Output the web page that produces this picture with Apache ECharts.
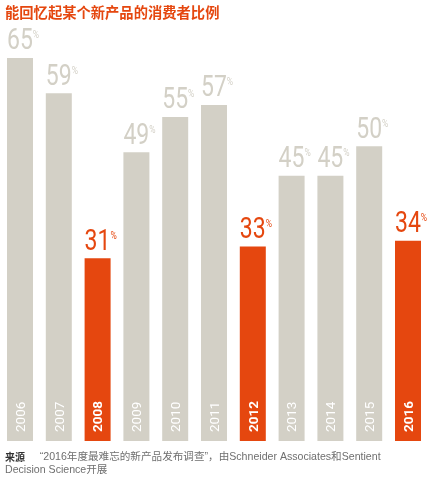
<!DOCTYPE html>
<html>
<head>
<meta charset="utf-8">
<style>
  html, body { margin: 0; padding: 0; background: #fff; }
  #main { width: 445px; height: 481px; }
</style>
<script src="https://cdn.jsdelivr.net/npm/echarts@6/dist/echarts.min.js"></script>
</head>
<body>
<div id="main"></div>
<script>
  // 数据
  const years = ['2006', '2007', '2008', '2009', '2010', '2011', '2012', '2013', '2014', '2015', '2016']
  const shares = [65, 59, 31, 49, 55, 57, 33, 45, 45, 50, 34]
  const highlightYears = ['2008', '2012', '2016']

  const GRAY = '#d3d0c6'
  const ORANGE = '#e5470f'
  const NUM_FONT = 'Roboto, "Liberation Sans", sans-serif'
  const BAR_W = 26

  const isHot = (y) => highlightYears.includes(y)

  const chart = echarts.init(document.getElementById('main'))

  // 数值标签（窄体）和年份标签（竖排）用 custom 系列画，坐标取自坐标轴
  function renderLabels(params, api) {
    const idx = api.value(0)
    const v = api.value(1)
    const year = years[idx]
    const color = isHot(year) ? ORANGE : GRAY
    const top = api.coord([idx, v])
    const base = api.coord([idx, 0])
    const left = top[0] - BAR_W / 2
    return {
      type: 'group',
      children: [
        {
          type: 'text',
          x: left,
          y: top[1] - 1,
          scaleX: 0.78,
          style: {
            text: '{n|' + v + '}{p|%}',
            align: 'left',
            verticalAlign: 'bottom',
            rich: {
              n: { fontSize: 29.5, fontFamily: NUM_FONT, lineHeight: 30, fill: color },
              p: { fontSize: 11, fontFamily: NUM_FONT, lineHeight: 30, verticalAlign: 'top', fill: color, padding: [3, 0, 0, 0] },
            },
          },
        },
        {
          type: 'text',
          x: base[0] + 1.5,
          y: base[1] - 9,
          rotation: Math.PI / 2,
          style: {
            text: year,
            align: 'left',
            verticalAlign: 'middle',
            fill: '#fff',
            fontSize: 13.5,
            fontWeight: isHot(year) ? 'bold' : 'normal',
            fontFamily: NUM_FONT,
          },
        },
      ],
    }
  }

  const option = {
    animation: false,
    grid: { left: 0.6, right: 17.6, top: 28.5, bottom: 40 },
    graphic: [
      {
        type: 'text',
        left: 5,
        top: 5,
        style: {
          text: '能回忆起某个新产品的消费者比例',
          fill: ORANGE,
          font: 'bold 14.3px "Noto Sans CJK SC", sans-serif',
        },
      },
      {
        type: 'text',
        left: 5,
        top: 451,
        style: {
          text: '{b|来源}     “2016年度最难忘的新产品发布调查”，由Schneider Associates和Sentient\nDecision Science开展',
          fill: '#6f6f6f',
          fontSize: 10.6,
          fontFamily: '"Liberation Sans", "Noto Sans CJK SC", sans-serif',
          lineHeight: 12.5,
          rich: {
            b: { fontWeight: 'bold', fill: '#333', fontSize: 10, fontFamily: '"Noto Sans CJK SC", sans-serif', lineHeight: 12.5 },
          },
        },
      },
    ],
    xAxis: {
      type: 'category',
      data: years,
      axisLine: { show: false },
      axisTick: { show: false },
      axisLabel: { show: false },
    },
    yAxis: {
      type: 'value',
      min: 0,
      max: 70,
      show: false,
      splitLine: { show: false },
    },
    series: [
      {
        type: 'bar',
        barWidth: BAR_W,
        data: shares.map((v, i) => ({
          value: v,
          itemStyle: { color: isHot(years[i]) ? ORANGE : GRAY },
        })),
      },
      {
        type: 'custom',
        z: 5,
        renderItem: renderLabels,
        encode: { x: 0, y: 1 },
        data: shares.map((v, i) => [i, v]),
      },
    ],
  }

  chart.setOption(option)
</script>
</body>
</html>
